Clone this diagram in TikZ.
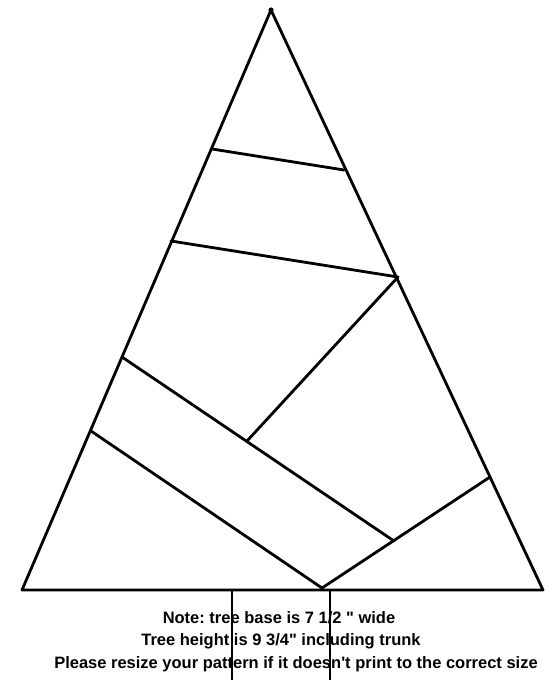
\documentclass[tikz,border=0pt]{standalone}
\usepackage{fontspec}
\setmainfont{Liberation Sans}[Ligatures=TeXOff]
\frenchspacing
\begin{document}
\begin{tikzpicture}[x=1pt,y=-1pt,
  edge/.style={line width=2.8pt,line cap=round,line join=round},
  note/.style={font=\bfseries\fontsize{16.5}{18}\selectfont,inner sep=0pt}]
\useasboundingbox (0,0) rectangle (550,680);
\fill[white] (0,0) rectangle (550,680);
% corner points
\coordinate (top) at (271,10);
\coordinate (bl) at (22,590);
\coordinate (br) at (543,590);
\coordinate (m) at (322,588);
\coordinate (a1) at (212,149);
\coordinate (a2) at (344,170);
\coordinate (b1) at (171,241);
\coordinate (b2) at (398,277);
\coordinate (c2) at (247,441);
\coordinate (d1) at (122,357);
\coordinate (d2) at (394,541);
\coordinate (e1) at (91,431);
\coordinate (f2) at (490,477);
\coordinate (t1) at (232,591);
\coordinate (t2) at (330,591);
\coordinate (t1e) at (232,680);
\coordinate (t2e) at (330,680);
% text
\node[note] (n1) at (279,618) {Note: tree base is 7 1/2 " wide};
\node[note] (n2) at (281,641) {Tree height is 9 3/4" including trunk};
\node[note] (n3) at (296,664) {Please resize your pattern if it doesn't print to the correct size};
% tree
\draw[edge] (top) -- (bl) -- (br) -- cycle;
\draw[edge] (a1) -- (a2);
\draw[edge] (b1) -- (b2) -- (c2);
\draw[edge] (d1) -- (d2);
\draw[edge] (e1) -- (m) -- (f2);
\fill (top) circle (2.6);
% trunk
\draw[line width=2.2pt] (t1) -- (t1e);
\draw[line width=2.2pt] (t2) -- (t2e);
\end{tikzpicture}
\end{document}
